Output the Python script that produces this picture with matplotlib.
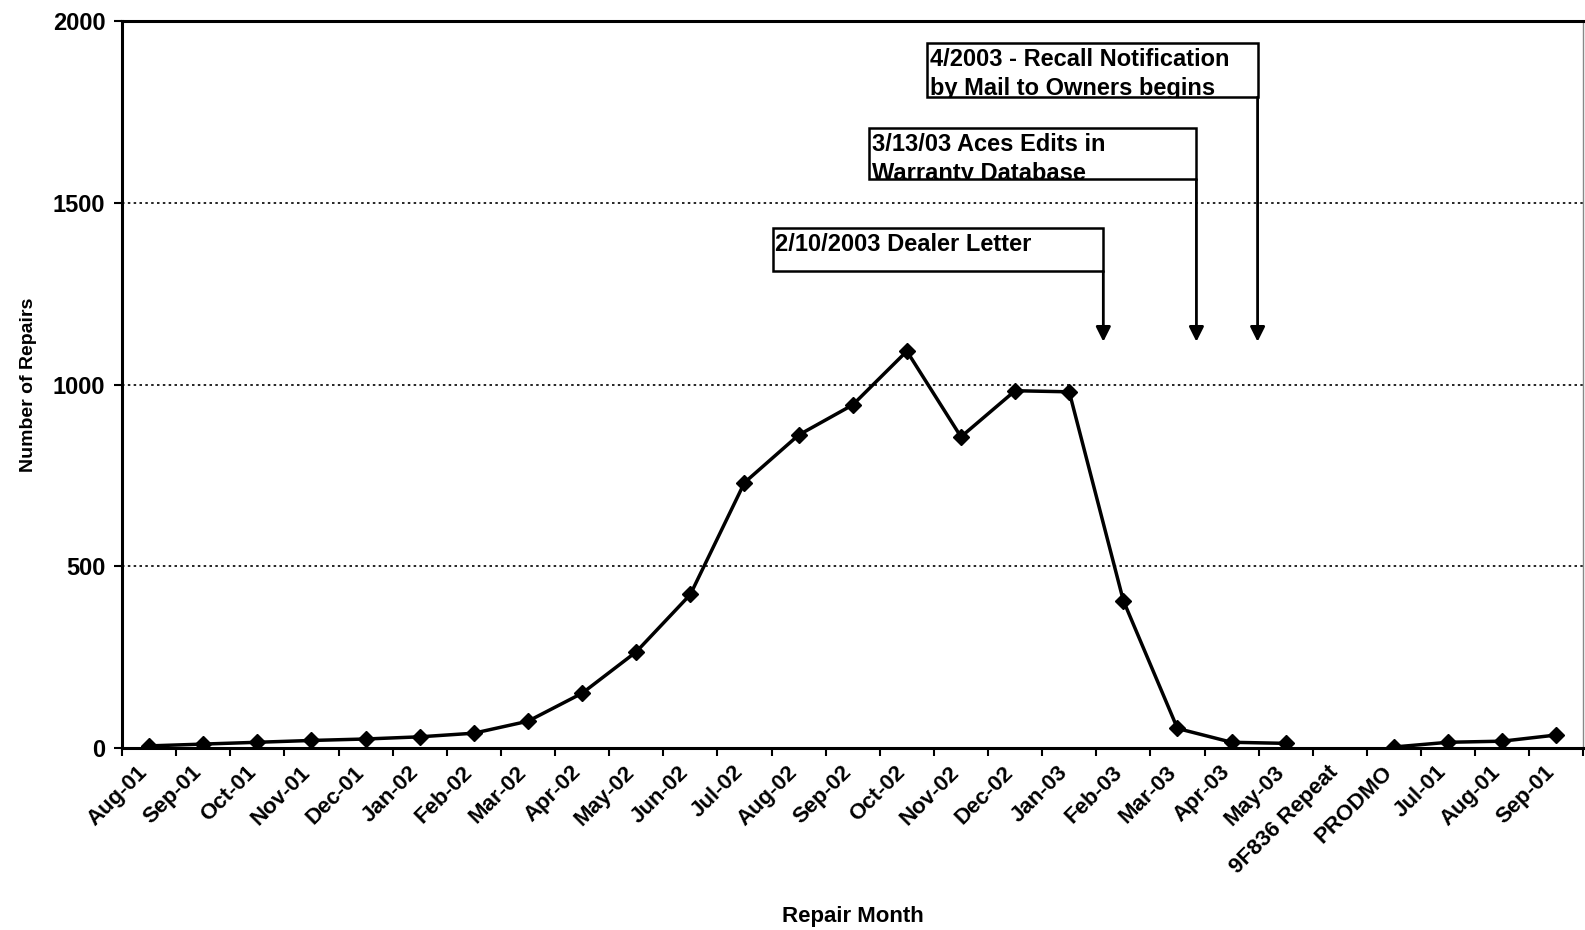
import matplotlib
matplotlib.use("Agg")
import matplotlib.pyplot as plt
import matplotlib.transforms as mtransforms
import numpy as np
from matplotlib.patches import Rectangle
from matplotlib.transforms import Bbox, TransformedBbox

plt.rcParams["font.family"] = ["Liberation Sans", "DejaVu Sans"]
plt.rcParams["font.weight"] = "bold"

# Data
months = ["Aug-01", "Sep-01", "Oct-01", "Nov-01", "Dec-01", "Jan-02", "Feb-02",
          "Mar-02", "Apr-02", "May-02", "Jun-02", "Jul-02", "Aug-02", "Sep-02",
          "Oct-02", "Nov-02", "Dec-02", "Jan-03", "Feb-03", "Mar-03", "Apr-03",
          "May-03", "9F836 Repeat", "PRODMO", "Jul-01", "Aug-01", "Sep-01"]
repairs = [5, 10, 15, 20, 24, 30, 40, 73, 150, 264, 422, 730, 861, 944,
           1092, 856, 983, 980, 405, 53, 15, 12, np.nan, 2, 15, 18, 35]

y_ticks = [0, 500, 1000, 1500, 2000]

notes = ["4/2003 - Recall Notification\nby Mail to Owners begins",
         "3/13/03 Aces Edits in\nWarranty Database",
         "2/10/2003 Dealer Letter"]

fig = plt.figure(figsize=(15.85, 9.3), dpi=100)
ax = fig.add_axes([0.077, 0.196, 0.922, 0.781])

x = np.arange(len(months))
ax.plot(x, repairs, color="black", lw=2.5, marker="D", ms=8.5, zorder=4)

ax.set_xlim(-0.5, len(months) - 0.5)
ax.set_ylim(0, 2000)
ax.set_yticks(y_ticks)
ax.set_yticklabels([str(v) for v in y_ticks], fontsize=17, fontweight="bold")

# category labels at centres, tick marks on the boundaries
ax.set_xticks(x)
ax.set_xticklabels(months, rotation=45, ha="right", rotation_mode="anchor",
                   fontsize=16, fontweight="bold")
ax.tick_params(axis="x", which="major", length=0, pad=8)
shift = mtransforms.ScaledTranslation(-12 / 100, -3 / 100, fig.dpi_scale_trans)
for lbl in ax.get_xticklabels():
    lbl.set_transform(lbl.get_transform() + shift)
ax.set_xticks(np.arange(-0.5, len(months)), minor=True)
ax.tick_params(axis="x", which="minor", length=6, width=1.5, direction="out")
ax.tick_params(axis="y", length=6, width=1.5, direction="out", pad=6)

ax.grid(axis="y", linestyle=(0, (1.5, 2)), color="black", lw=1.2)
ax.set_axisbelow(True)

ax.spines["left"].set_linewidth(2.2)
ax.spines["bottom"].set_linewidth(2.2)
ax.spines["top"].set_linewidth(2.2)
ax.spines["right"].set_linewidth(1)
ax.spines["right"].set_color("#888888")

ax.set_xlabel("Repair Month", fontsize=16, fontweight="bold")
ax.xaxis.set_label_coords(0.5, -0.218)
ax.set_ylabel("Number of Repairs", fontsize=14, fontweight="bold")
ax.yaxis.set_label_coords(-0.058, 0.5)

# annotation boxes: (x0, x1, y_bottom, y_top)
boxes = [(14.38, 20.48, 1791, 1941),
         (13.30, 19.35, 1565, 1707),
         (11.52, 17.63, 1312, 1432)]
tip = 1118

for txt, (x0, x1, yb, yt) in zip(notes, boxes):
    rect = Rectangle((x0, yb), x1 - x0, yt - yb, fc="white", ec="black",
                     lw=1.8, zorder=5)
    ax.add_patch(rect)
    t = ax.text(x0 + 0.05, yt - 14, txt, ha="left", va="top", fontsize=17,
                fontweight="bold", linespacing=1.36, zorder=6)
    t.set_clip_box(TransformedBbox(Bbox([[x0, yb], [x1, yt]]), ax.transData))
    t.set_clip_on(True)
    ax.annotate("", xy=(x1, tip), xytext=(x1, yb),
                arrowprops=dict(arrowstyle="-|>", color="black", lw=2,
                                mutation_scale=22, shrinkA=0, shrinkB=0),
                zorder=6)

fig.savefig("out.png", dpi=100)
